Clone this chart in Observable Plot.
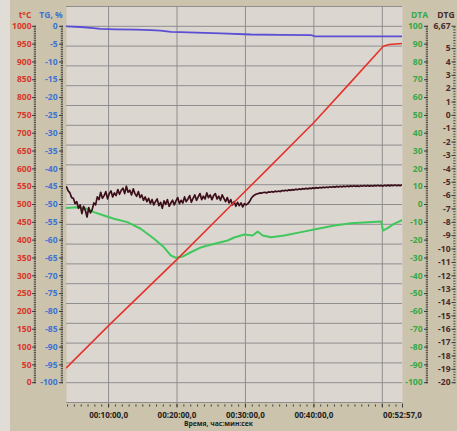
<!DOCTYPE html>
<html>
<head>
<meta charset="utf-8">
<script src="https://cdn.jsdelivr.net/npm/d3@7"></script>
<script src="https://cdn.jsdelivr.net/npm/@observablehq/plot@0.6"></script>
<style>
  html, body { margin: 0; padding: 0; background: #cbc3ab; }
  #chart svg { display: block; background: linear-gradient(to right, #e0ddd6 0px, #e0ddd6 10px, #cbc3ab 10px, #cbc3ab 100%) !important; }
  g[aria-label="header"] text { text-decoration: underline; }
</style>
</head>
<body>
<div id="chart"></div>
<script>
// ---------------- data ----------------
// time in minutes
const tempTime  = [3.85, 10, 20, 30, 33, 40, 45, 50.15, 51, 52.95];
const tempValue = [42, 160, 346, 538, 595, 730, 835, 944, 949, 952];

const tgTime  = [3.85, 5.9, 7.8, 8.8, 11, 14, 16.2, 17.6, 19.1, 20.5, 26.4, 30.8, 35.2, 39.6, 40.1, 52.95];
const tgValue = [0, -0.2, -0.5, -0.75, -0.85, -0.94, -1.05, -1.2, -1.55, -1.65, -2.0, -2.3, -2.4, -2.45, -2.8, -2.8];

const dtaTime  = [3.85, 5.41, 6.88, 7.85, 9.31, 10.78, 12.74, 14.69, 16.64, 18.10, 19.08, 19.82, 20.80, 22.01, 23.48, 24.46, 25.93, 27.39, 28.36, 29.82, 31.05, 31.79, 32.52, 33.74, 35.68, 38.13, 40.58, 43.01, 45.46, 47.90, 49.85, 50.10, 50.84, 51.76, 52.78, 52.95];
const dtaValue = [-1.9, -1.5, -2.4, -4.3, -6.2, -8.0, -9.9, -13.6, -19.2, -24.0, -28.6, -29.9, -29.2, -26.8, -24.1, -23.0, -21.6, -20.2, -18.5, -16.8, -17.4, -15.2, -17.4, -18.4, -17.4, -15.5, -13.6, -11.8, -10.5, -9.9, -9.5, -14.6, -13.1, -10.7, -9.0, -8.6];

// DTG sampled every 0.25 min from 3.85 min
const dtgStart = 3.85, dtgStep = 0.25;
const dtgValue = [
  -5.35,-5.65,-5.8,-6.15,-6.2,-6.6,-6.45,-6.95,-6.7,-7.35,
  -6.8,-7.1,-7.6,-6.9,-7.3,-7.05,-6.55,-6.7,-6.1,-6.3,
  -5.75,-6.2,-6.0,-5.7,-6.25,-5.85,-5.65,-6.1,-5.8,-6.0,
  -5.55,-5.9,-5.6,-5.45,-5.85,-5.3,-5.75,-5.6,-5.95,-5.5,
  -5.85,-6.05,-5.7,-6.15,-5.95,-6.35,-6.1,-6.45,-6.2,-6.6,
  -6.3,-6.7,-6.45,-6.25,-6.75,-6.5,-6.95,-6.4,-6.65,-6.3,
  -6.8,-6.55,-6.35,-6.7,-6.4,-6.15,-6.6,-6.35,-6.55,-6.1,
  -6.45,-6.25,-6.0,-6.5,-6.2,-5.95,-6.35,-6.1,-5.85,-6.3,
  -6.05,-6.25,-5.8,-6.15,-5.95,-6.3,-6.0,-5.85,-6.25,-6.05,
  -6.35,-5.95,-6.2,-6.45,-6.15,-6.55,-6.3,-6.7,-6.45,-6.8,
  -6.5,-6.75,-6.55,-6.85,-6.6,-6.7,-6.6,-6.45,-6.2,-6.05,
  -5.95,-5.88,-5.85,-5.8,
  -5.82,-5.77,-5.76,-5.80,-5.72,-5.75,-5.70,-5.74,-5.67,-5.71,
  -5.66,-5.70,-5.62,-5.65,-5.60,-5.64,-5.57,-5.61,-5.55,-5.59,
  -5.52,-5.56,-5.50,-5.54,-5.48,-5.51,-5.46,-5.50,-5.44,-5.48,
  -5.42,-5.46,-5.40,-5.44,-5.39,-5.42,-5.37,-5.41,-5.36,-5.40,
  -5.34,-5.38,-5.33,-5.37,-5.31,-5.36,-5.30,-5.35,-5.29,-5.34,
  -5.28,-5.33,-5.27,-5.32,-5.26,-5.31,-5.27,-5.32,-5.26,-5.30,
  -5.25,-5.30,-5.24,-5.29,-5.25,-5.30,-5.24,-5.28,-5.23,-5.28,
  -5.24,-5.29,-5.23,-5.27,-5.22,-5.27,-5.22,-5.26,-5.21,-5.26,
  -5.22,-5.25,-5.21
];

// axis tick labels
const tempTicks = [1000,950,900,850,800,750,700,650,600,550,500,450,400,350,300,250,200,150,100,50,0];
const tgTicks   = [0,-5,-10,-15,-20,-25,-30,-35,-40,-45,-50,-55,-60,-65,-70,-75,-80,-85,-90,-95,-100];
const dtaTicks  = [100,90,80,70,60,50,40,30,20,10,0,-10,-20,-30,-40,-50,-60,-70,-80,-90,-100];
const dtgTicks  = [6.67,5,4,3,2,1,0,-1,-2,-3,-4,-5,-6,-7,-8,-9,-10,-11,-12,-13,-14,-15,-16,-17,-18,-19,-20];
const xTickValues = [10, 20, 30, 40, 50, 52.95];
const xTickLabels = ["00:10:00,0", "00:20:00,0", "00:30:00,0", "00:40:00,0", "", "00:52:57,0"];
const xGridValues = [10, 20, 30, 40, 50];
const xTitle = "Время, час:мин:сек";
const headers = {t: "t°C", tg: "TG, %", dta: "DTA", dtg: "DTG"};

// ---------------- scale conversions (secondary axes -> t°C axis) ----------------
const fromTG  = v => (v + 100) * 10;
const fromDTA = v => (v + 100) * 5;
const fromDTG = v => (v + 20) * 37.5;
const toTG  = d => d / 10 - 100;
const toDTA = d => d / 5 - 100;
const toDTG = d => d / 37.5 - 20;
const fmtInt = v => String(Math.round(v));
const fmtDTG = v => { const r = Math.round(v); return Math.abs(v - r) < 1e-6 ? String(r) : v.toFixed(2).replace(".", ","); };

// ---------------- tables ----------------
const tempData = tempTime.map((t, i) => ({time: t, value: tempValue[i]}));
const tgData   = tgTime.map((t, i) => ({time: t, value: tgValue[i]}));
const dtaData  = dtaTime.map((t, i) => ({time: t, value: dtaValue[i]}));
const dtgData  = dtgValue.map((v, i) => ({time: dtgStart + i * dtgStep, value: v}));

const gridDivisions = 18;
const gridValues = d3.range(-1, gridDivisions + 2).map(k => 1000 * k / gridDivisions);
const minorMain = d3.range(0, 1000.01, 5);
const minorDTG = d3.range(-20, 6.67, 0.2).map(fromDTG);
const minorX = d3.range(4, 53, 1);

const RED = "#e5332a", BLUE = "#5a4ed4", GREEN = "#40c85c", DARK = "#3c0e1a";
const RED_T = "#d9352b", BLUE_T = "#3d72d6", GREEN_T = "#35a84a", DARK_T = "#4a2a2c";
const TICK = "#3a3a3a";
const FONT = 8.5;

const yAxis = (ticks, fmt, dx, fill, tickPadding) => Plot.axisY(ticks, {
  anchor: "left", dx, tickSize: 4, tickPadding, fill, stroke: TICK,
  fontSize: FONT, fontWeight: "bold", label: null, tickFormat: fmt
});
const yMinor = (ticks, dx) => Plot.axisY(ticks, {
  anchor: "left", dx, tickSize: 2.2, stroke: TICK, strokeWidth: 0.9,
  label: null, tickFormat: () => ""
});
const header = (txt, dx, fill) => Plot.text([txt], {
  text: d => d, frameAnchor: "top-left", dx, dy: 8.5, fill,
  textAnchor: "middle", lineAnchor: "middle",
  fontSize: FONT, fontWeight: "bold", ariaLabel: "header"
});

const chart = Plot.plot({
  width: 457, height: 431,
  marginLeft: 66, marginRight: 55, marginTop: 6, marginBottom: 29,
  style: {fontFamily: "'Open Sans', sans-serif", overflow: "visible"},
  x: {domain: [3.85, 52.95], label: null},
  y: {domain: [-1000 / 18, 1000 + 1000 / 18], label: null},
  marks: [
    Plot.frame({fill: "#dcd6d1", stroke: "none"}),
    Plot.gridY(gridValues, {stroke: "#8e8e8e", strokeOpacity: 1, strokeWidth: 1}),
    Plot.gridX(xGridValues, {stroke: "#8e8e8e", strokeOpacity: 1, strokeWidth: 1}),

    Plot.line(dtaData, {x: "time", y: d => fromDTA(d.value), stroke: GREEN, strokeWidth: 2, clip: true}),
    Plot.line(dtgData, {x: "time", y: d => fromDTG(d.value), stroke: DARK, strokeWidth: 1.7, clip: true}),
    Plot.line(tgData, {x: "time", y: d => fromTG(d.value), stroke: BLUE, strokeWidth: 1.8, clip: true}),
    Plot.line(tempData, {x: "time", y: "value", stroke: RED, strokeWidth: 1.6, clip: true}),

    // left axes
    yMinor(minorMain, -30),
    yAxis(tempTicks, fmtInt, -30, RED_T, 1),
    yMinor(minorMain, -3),
    yAxis(tgTicks.map(fromTG), d => fmtInt(toTG(d)), -3, BLUE_T, 2),
    // right axes
    yMinor(minorMain, 362),
    yAxis(dtaTicks.map(fromDTA), d => fmtInt(toDTA(d)), 362, GREEN_T, 2),
    yMinor(minorDTG, 389.5),
    yAxis(dtgTicks.map(fromDTG), d => fmtDTG(toDTG(d)), 389.5, DARK_T, 1.5),

    // x axis
    Plot.axisX(minorX, {tickSize: 2, dy: 2.5, stroke: TICK, tickFormat: () => "", label: null}),
    Plot.axisX(xTickValues, {
      tickSize: 4, dy: 1.5, tickPadding: 4, stroke: TICK, fill: "#222",
      fontSize: 8, fontWeight: "bold", label: null,
      tickFormat: d => xTickLabels[xTickValues.indexOf(d)]
    }),
    Plot.text([xTitle], {text: d => d, frameAnchor: "bottom", dx: -16, dy: 23.5, fill: "#222", fontSize: 6.8, fontWeight: "bold"}),

    header(headers.t, -41.5, RED_T),
    header(headers.tg, -15.5, BLUE_T),
    header(headers.dta, 353, GREEN_T),
    header(headers.dtg, 379.5, DARK_T)
  ]
});
document.getElementById("chart").appendChild(chart);
</script>
</body>
</html>
